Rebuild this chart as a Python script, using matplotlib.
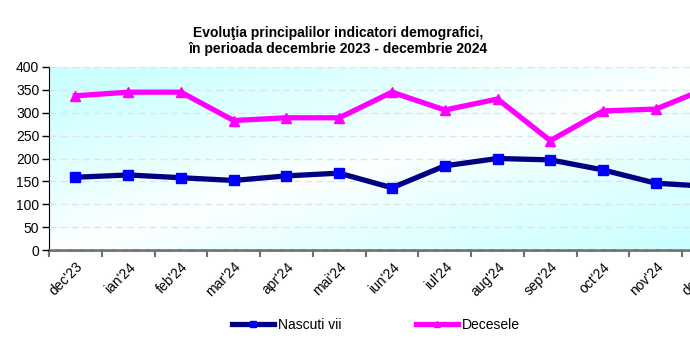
import numpy as np
import matplotlib
matplotlib.use('Agg')
import matplotlib.pyplot as plt
from matplotlib.lines import Line2D

months = ["dec'23", "ian'24", "feb'24", "mar'24", "apr'24", "mai'24", "iun'24",
          "iul'24", "aug'24", "sep'24", "oct'24", "nov'24", "dec'24"]
nascuti = [159, 164, 158, 152, 162, 168, 136, 184, 200, 197, 175, 146, 139]
decese = [337, 345, 345, 283, 289, 289, 345, 306, 330, 239, 304, 308, 355]

plt.rcParams['font.family'] = ['Liberation Sans', 'DejaVu Sans']
narrow = ['Liberation Sans Narrow', 'Liberation Sans', 'DejaVu Sans']

fig = plt.figure(figsize=(6.9, 3.48), dpi=100)
# plot area runs past the right edge, like the original
ax = fig.add_axes([49 / 690, 98 / 348, 686 / 690, 183 / 348])

# diagonal cyan-white gradient background
u, v = np.meshgrid(np.linspace(0, 1, 300), np.linspace(1, 0, 100))
t = np.clip(np.abs(u - v), 0, 1) ** 0.8
cyan = np.array([0.78, 1.0, 1.0])
img = 1 - t[..., None] * (1 - cyan)
ax.imshow(img, extent=[0, 1, 0, 1], transform=ax.transAxes, aspect='auto', zorder=0)

x = np.arange(len(months))
ax.plot(x, nascuti, color='#000080', lw=3.8, marker='s', ms=7.5,
        mfc='#0000FF', mec='#0000FF', zorder=3, clip_on=False)
ax.plot(x, decese, color='#FF00FF', lw=3.8, marker='^', ms=7,
        mfc='#FF00FF', mec='#FF00FF', zorder=3, clip_on=False)

ax.set_xlim(-0.5, len(months) - 0.5)
ax.set_ylim(0, 400)
ax.set_yticks(range(0, 401, 50))
ax.yaxis.grid(True, color='#dde4ee', ls=(0, (5, 3)), lw=1)
ax.set_axisbelow(False)
for gl in ax.get_ygridlines():
    gl.set_zorder(1)

ax.set_xticks(np.arange(-0.5, len(months), 1))
ax.set_xticklabels([])
ax.set_xticks(x, minor=True)
ax.set_xticklabels(months, minor=True, rotation=45, ha='right',
                   rotation_mode='anchor', fontsize=10, family=narrow)
ax.tick_params(axis='x', which='major', direction='out', length=5, color='#707070', width=1.5)
ax.tick_params(axis='x', which='minor', length=0, pad=7)
ax.tick_params(axis='y', direction='out', length=5, width=1, labelsize=10, pad=2)
for lab in ax.get_yticklabels():
    lab.set_family(narrow)

for s in ['top', 'right']:
    ax.spines[s].set_visible(False)
ax.spines['left'].set_color('black')
ax.spines['bottom'].set_color('#707070')
ax.spines['bottom'].set_linewidth(2)

fig.text(338 / 690, 1 - 41 / 348,
         "Evoluţia principalilor indicatori demografici,\nîn perioada decembrie 2023 - decembrie 2024",
         ha='center', va='center', fontsize=10, fontweight='bold', family=narrow,
         linespacing=1.15)

handles = [Line2D([], [], color='#000080', lw=3.8, marker='s', ms=4, mfc='#0000FF', mec='#0000FF'),
           Line2D([], [], color='#FF00FF', lw=3.8, marker='^', ms=4, mfc='#FF00FF', mec='#FF00FF')]
fig.legend(handles, ['Nascuti vii', 'Decesele'], loc='center',
           bbox_to_anchor=(376 / 690, 1 - 325 / 348), ncol=2, frameon=False,
           handlelength=3, handletextpad=0.3, columnspacing=5.4,
           prop={'family': narrow, 'size': 10})

fig.savefig('out.png', dpi=100)
